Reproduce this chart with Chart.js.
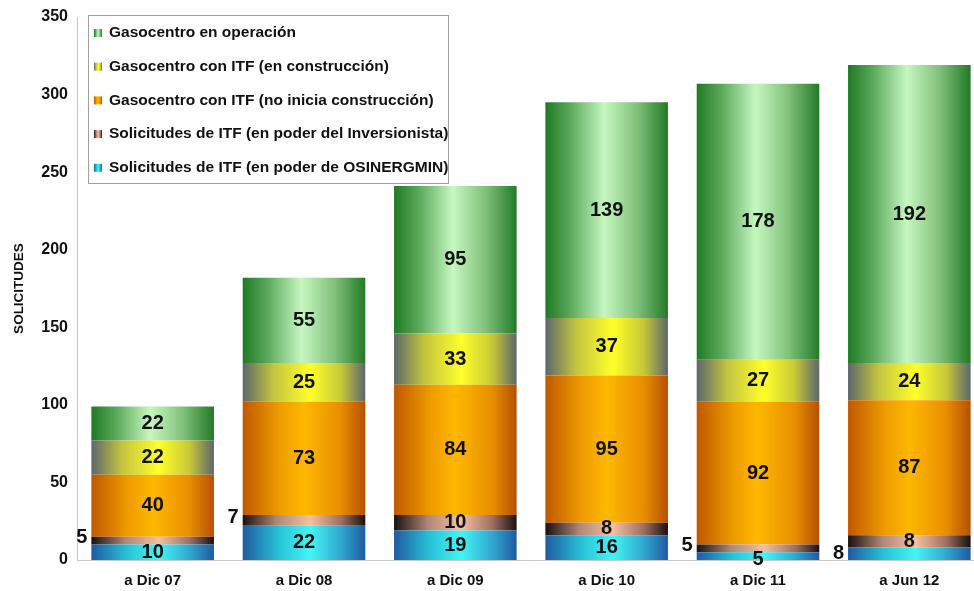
<!DOCTYPE html>
<html>
<head>
<meta charset="utf-8">
<script src="https://cdn.jsdelivr.net/npm/chart.js@4"></script>
<style>
  html, body { margin: 0; padding: 0; background: #fff; overflow: hidden; }
  #wrap { width: 988px; height: 591px; }
</style>
</head>
<body>
<div id="wrap"><canvas id="chart" width="988" height="591"></canvas></div>
<script>
// categories and series, bottom of the stack first
const categories = ["a Dic 07", "a Dic 08", "a Dic 09", "a Dic 10", "a Dic 11", "a Jun 12"];
const osinergmin = [10, 22, 19, 16, 5, 8];
const inversionista = [5, 7, 10, 8, 5, 8];
const noInicia = [40, 73, 84, 95, 92, 87];
const enConstruccion = [22, 25, 33, 37, 27, 24];
const enOperacion = [22, 55, 95, 139, 178, 192];
const yTicks = [0, 50, 100, 150, 200, 250, 300, 350];

// which value labels sit outside the bar (left of it)
const outsideLabels = {
  1: [0, 1, 4],   // inversionista: Dic 07, Dic 08, Dic 11
  0: [5]          // osinergmin: Jun 12
};

const seriesNames = [
  "Solicitudes de ITF (en poder de OSINERGMIN)",
  "Solicitudes de ITF (en poder del Inversionista)",
  "Gasocentro con ITF (no inicia construcción)",
  "Gasocentro con ITF (en construcción)",
  "Gasocentro en operación"
];

const stops = [
  [[0, "#1f5aa0"], [0.3, "#28c4d8"], [0.55, "#44f4f4"], [0.8, "#30a8d0"], [1, "#1f5aa0"]],
  [[0, "#1a1010"], [0.28, "#b08878"], [0.55, "#f4c0a2"], [0.8, "#a07060"], [1, "#1a1010"]],
  [[0, "#c05800"], [0.3, "#ee9c00"], [0.5, "#ffb800"], [0.8, "#e88e00"], [1, "#b65000"]],
  [[0, "#5c686c"], [0.25, "#c4c440"], [0.55, "#ffff2a"], [0.8, "#c8c838"], [1, "#5c686c"]],
  [[0, "#1f7a24"], [0.2, "#5aa85a"], [0.48, "#c6f7c0"], [0.75, "#80c07a"], [1, "#237a26"]]
];
const barPct = 0.81;

const seriesData = [osinergmin, inversionista, noInicia, enConstruccion, enOperacion];

const datasets = seriesData.map((d, i) => ({
  label: seriesNames[i],
  data: d,
  backgroundColor: stops[i][2][1],
  borderWidth: 0,
  barPercentage: barPct,
  categoryPercentage: 1
}));

// cylinder look: horizontal gradient per bar, built from the bar element itself
const cylinder = {
  id: "cylinder",
  beforeDatasetsDraw(chart) {
    const c = chart.ctx;
    chart.data.datasets.forEach((ds, di) => {
      chart.getDatasetMeta(di).data.forEach(bar => {
        const g = c.createLinearGradient(bar.x - bar.width / 2, 0, bar.x + bar.width / 2, 0);
        stops[di].forEach(s => g.addColorStop(s[0], s[1]));
        bar.options = Object.assign({}, bar.options, { backgroundColor: g });
      });
    });
  }
};

const valueLabels = {
  id: "valueLabels",
  afterDatasetsDraw(chart) {
    const c = chart.ctx;
    c.save();
    c.font = "bold 20px 'Liberation Sans', Arial, sans-serif";
    c.fillStyle = "#111";
    c.textBaseline = "middle";
    chart.data.datasets.forEach((ds, di) => {
      const meta = chart.getDatasetMeta(di);
      meta.data.forEach((bar, i) => {
        const v = ds.data[i];
        const y = (bar.y + bar.base) / 2;
        if ((outsideLabels[di] || []).includes(i)) {
          c.textAlign = "right";
          c.fillText(v, bar.x - bar.width / 2 - 4, y - (di === 0 ? 0 : 3));
        } else {
          c.textAlign = "center";
          c.fillText(v, bar.x, y + (bar.base - bar.y < 12 ? 3 : 0));
        }
      });
    });
    c.restore();
  }
};

const boxLegend = {
  id: "boxLegend",
  afterDraw(chart) {
    const c = chart.ctx;
    const left = 88, top = 15, w = 360, h = 168;
    c.save();
    c.fillStyle = "#fff";
    c.fillRect(left, top, w, h);
    c.strokeStyle = "#a0a0a0";
    c.lineWidth = 1;
    c.strokeRect(left + 0.5, top + 0.5, w, h);
    c.font = "bold 15.5px 'Liberation Sans', Arial, sans-serif";
    c.textBaseline = "middle";
    c.textAlign = "left";
    for (let k = 0; k < seriesNames.length; k++) {
      const di = seriesNames.length - 1 - k;
      const y = top + 18 + k * 33.7;
      const g = c.createLinearGradient(94, 0, 102, 0);
      stops[di].forEach(s => g.addColorStop(s[0], s[1]));
      c.fillStyle = g;
      c.fillRect(94, y - 4, 8, 8);
      c.fillStyle = "#111";
      c.fillText(seriesNames[di], 109, y);
    }
    c.restore();
  }
};

new Chart(document.getElementById("chart"), {
  type: "bar",
  data: { labels: categories, datasets },
  options: {
    responsive: false,
    animation: false,
    layout: { padding: { top: 17, right: 3, bottom: 0, left: 0 } },
    plugins: { legend: { display: false }, tooltip: { enabled: false } },
    scales: {
      x: {
        stacked: true,
        grid: { display: false },
        border: { display: true, color: "#c8c8c8" },
        ticks: { padding: 4, color: "#111", font: { family: "'Liberation Sans', Arial", size: 15, weight: "bold" } },
        afterFit(s) { s.height = 31; }
      },
      y: {
        stacked: true,
        min: 0,
        max: 350,
        afterBuildTicks(s) { s.ticks = yTicks.map(v => ({ value: v })); },
        grid: { display: false },
        border: { display: true, color: "#c8c8c8" },
        ticks: { padding: 1, color: "#111", font: { family: "'Liberation Sans', Arial", size: 16, weight: "bold" } },
        title: {
          display: true,
          text: "SOLICITUDES",
          color: "#111",
          padding: { top: 11, bottom: 0 },
          font: { family: "'Liberation Sans', Arial", size: 13.5, weight: "bold" }
        },
        afterFit(s) { s.width = 77; }
      }
    }
  },
  plugins: [cylinder, valueLabels, boxLegend]
});
</script>
</body>
</html>
